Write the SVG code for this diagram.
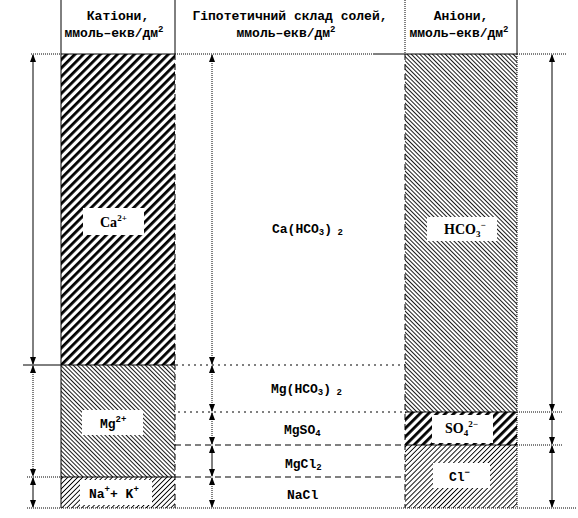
<svg xmlns="http://www.w3.org/2000/svg" width="578" height="518" viewBox="0 0 578 518">
<defs>
<pattern id="thick" patternUnits="userSpaceOnUse" width="6" height="10" patternTransform="rotate(45)"><rect x="0" y="0" width="2.8" height="10" fill="#000"/></pattern>
<pattern id="thinB" patternUnits="userSpaceOnUse" width="3" height="10" patternTransform="rotate(-45)"><rect x="0" y="0" width="0.9" height="10" fill="#000"/></pattern>
<pattern id="thinF" patternUnits="userSpaceOnUse" width="3.5" height="10" patternTransform="rotate(45)"><rect x="0" y="0" width="0.9" height="10" fill="#000"/></pattern>
<marker id="ah" viewBox="0 0 8 6" refX="7" refY="3" markerWidth="8" markerHeight="6" markerUnits="userSpaceOnUse" orient="auto-start-reverse"><path d="M0,0 L8,3 L0,6 z" fill="#000"/></marker>
</defs>
<style>
.hd{font-family:"Liberation Mono",monospace;font-weight:bold;font-size:13px;text-anchor:middle;fill:#000}
.lb{font-family:"Liberation Mono",monospace;font-weight:bold;font-size:13px;fill:#000}
.sf{font-family:"Liberation Serif",serif;font-weight:bold;font-size:14px;fill:#000}
.sm{font-size:9px}
.solid{stroke:#000;stroke-width:1;fill:none}
.dot{stroke:#000;stroke-width:1;stroke-dasharray:1 1;fill:none}
.sdot{stroke:#000;stroke-width:1;stroke-dasharray:2 4;fill:none}
.dash{stroke:#000;stroke-width:1;stroke-dasharray:6 4;fill:none}
.arr{stroke:#000;stroke-width:1;fill:none;marker-start:url(#ah);marker-end:url(#ah)}
.arrd{stroke:#000;stroke-width:1;stroke-dasharray:1 1;fill:none;marker-start:url(#ah);marker-end:url(#ah)}
.box{fill:#fff}
</style>
<rect width="578" height="518" fill="#fff"/>

<g id="header">
<text class="hd" x="118" y="20">Катіони,</text>
<text class="hd" x="114" y="37">ммоль–екв/дм<tspan class="sm" dy="-5">2</tspan></text>
<text class="hd" x="290" y="20">Гіпотетичний склад солей,</text>
<text class="hd" x="286" y="37">ммоль–екв/дм<tspan class="sm" dy="-5">2</tspan></text>
<text class="hd" x="461" y="20">Аніони,</text>
<text class="hd" x="459" y="37">ммоль–екв/дм<tspan class="sm" dy="-5">2</tspan></text>
</g>

<g id="cation-Ca">
<rect x="61" y="54" width="114" height="311" fill="url(#thick)"/>
<rect class="box" x="83" y="208" width="61" height="27"/>
<text class="sf" x="100" y="227">Ca<tspan class="sm" dy="-6">2+</tspan></text>
</g>
<g id="cation-Mg">
<rect x="61" y="365" width="114" height="112" fill="url(#thinB)"/>
<rect class="box" x="82" y="410" width="61" height="25"/>
<text class="lb" x="100" y="428">Mg<tspan class="sm" dy="-6">2+</tspan></text>
</g>
<g id="cation-NaK">
<rect x="61" y="477" width="114" height="31" fill="url(#thinF)"/>
<rect class="box" x="80" y="480" width="72" height="25"/>
<text class="lb" x="89" y="498">Na<tspan class="sm" dy="-6">+</tspan><tspan dy="6">+ K</tspan><tspan class="sm" dy="-6">+</tspan></text>
</g>

<g id="anion-HCO3">
<rect x="405" y="54" width="112" height="358" fill="url(#thinB)"/>
<rect class="box" x="427" y="217" width="70" height="24"/>
<text class="sf" x="444" y="234">HCO<tspan class="sm" dy="3">3</tspan><tspan class="sm" dy="-9">−</tspan></text>
</g>
<g id="anion-SO4">
<rect x="405" y="412" width="112" height="33" fill="url(#thick)"/>
<rect class="box" x="432" y="415" width="61" height="28"/>
<text class="sf" x="445" y="433">SO<tspan class="sm" dy="3">4</tspan><tspan class="sm" dy="-9">2−</tspan></text>
</g>
<g id="anion-Cl">
<rect x="405" y="445" width="112" height="63" fill="url(#thinF)"/>
<rect class="box" x="433" y="463" width="57" height="25"/>
<text class="lb" x="449" y="481">Cl<tspan class="sm" dy="-6">−</tspan></text>
</g>

<g id="salts">
<text class="lb" x="272" y="233">Ca(HCO<tspan class="sm" dy="2">3</tspan><tspan dy="-2">)</tspan><tspan class="sm" dy="2"> 2</tspan></text>
<text class="lb" x="271" y="393">Mg(HCO<tspan class="sm" dy="2">3</tspan><tspan dy="-2">)</tspan><tspan class="sm" dy="2"> 2</tspan></text>
<text class="lb" x="284" y="434">MgSO<tspan class="sm" dy="2">4</tspan></text>
<text class="lb" x="285" y="468">MgCl<tspan class="sm" dy="2">2</tspan></text>
<text class="lb" x="287" y="499">NaCl</text>
</g>

<g id="grid">
<line class="solid" x1="61" y1="0" x2="61" y2="508"/>
<line class="solid" x1="175" y1="0" x2="175" y2="54"/>
<line class="dash" x1="175" y1="54" x2="175" y2="508" stroke-dasharray="4 2"/>
<line class="dot" x1="405" y1="0" x2="405" y2="54"/>
<line class="dash" x1="405" y1="54" x2="405" y2="508" stroke-dasharray="4 2"/>
<line class="solid" x1="517" y1="0" x2="517" y2="54"/>
<line class="dot" x1="517" y1="54" x2="517" y2="508"/>

<line class="dot" x1="31" y1="54" x2="61" y2="54"/>
<line class="solid" x1="61" y1="54" x2="175" y2="54"/>
<line class="dot" x1="175" y1="54" x2="374" y2="54"/>
<line class="solid" x1="374" y1="54" x2="517" y2="54"/>
<line class="dot" x1="517" y1="54" x2="566" y2="54"/>

<line class="solid" x1="23" y1="365" x2="175" y2="365"/>
<line class="sdot" x1="176" y1="365" x2="405" y2="365"/>

<line class="sdot" x1="178" y1="412" x2="405" y2="412"/>
<line class="solid" x1="405" y1="412" x2="517" y2="412"/>
<line class="dot" x1="517" y1="412" x2="563" y2="412"/>

<line class="dash" x1="175" y1="445" x2="405" y2="445"/>
<line class="solid" x1="405" y1="445" x2="517" y2="445"/>
<line class="dot" x1="517" y1="445" x2="562" y2="445"/>

<line class="dot" x1="27" y1="477" x2="61" y2="477"/>
<line class="solid" x1="61" y1="477" x2="175" y2="477"/>
<line class="dash" x1="175" y1="477" x2="405" y2="477"/>

<line class="dot" x1="27" y1="508" x2="576" y2="508"/>
</g>

<g id="connectors">
<line class="arr" x1="33" y1="55" x2="33" y2="364"/>
<line class="arrd" x1="33" y1="366" x2="33" y2="476"/>
<line class="arr" x1="33" y1="478" x2="33" y2="507"/>

<line class="arrd" x1="212" y1="55" x2="212" y2="364"/>
<line class="arrd" x1="212" y1="366" x2="212" y2="411"/>
<line class="arrd" x1="212" y1="413" x2="212" y2="444"/>
<line class="arr" x1="212" y1="446" x2="212" y2="476"/>
<line class="arrd" x1="212" y1="478" x2="212" y2="507"/>

<line class="arr" x1="552" y1="55" x2="552" y2="411"/>
<line class="arr" x1="552" y1="413" x2="552" y2="444"/>
<line class="arr" x1="552" y1="446" x2="552" y2="507"/>
</g>
</svg>
